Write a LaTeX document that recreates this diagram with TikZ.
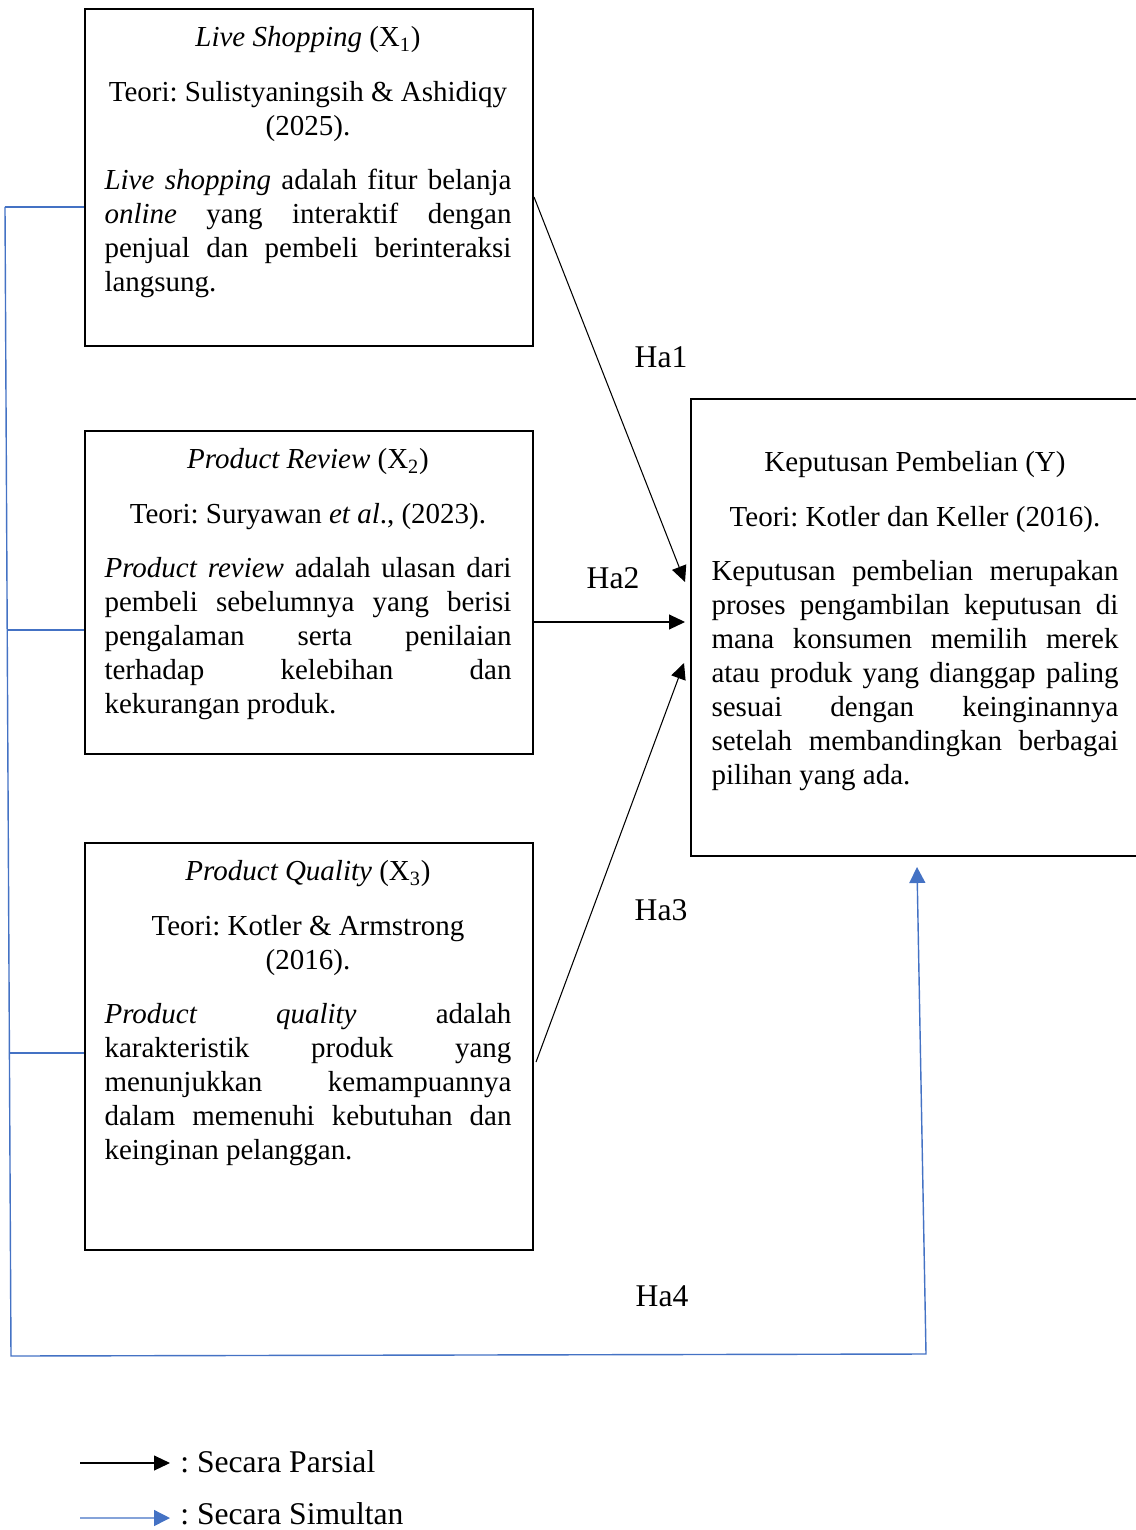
\documentclass[tikz,border=0pt]{standalone}
\usepackage{fontspec}
\setmainfont{Liberation Serif}
\usetikzlibrary{arrows.meta,calc}
\definecolor{simblue}{RGB}{68,114,196}
\frenchspacing
\begin{document}
\begin{tikzpicture}[x=0.02cm,y=-0.02cm,
  every node/.style={font=\fontsize{16.5}{19.35}\selectfont},
  box/.style={draw,line width=1.2pt,rectangle,inner sep=0pt,anchor=north west},
  txt/.style={text width=8.14cm,inner sep=0pt,anchor=north,align=justify,
    execute at begin node={\frenchspacing\setlength{\parskip}{11.7pt}\tolerance=10000\hyphenpenalty=10000\hbadness=10000}},
  part/.style={line width=0.6pt,-{Triangle[length=0.32cm,width=0.3cm]}},
  simul/.style={simblue,line width=0.8pt},
  simularrow/.style={simul,-{Triangle[length=0.32cm,width=0.32cm]}},
  lab/.style={inner sep=0pt,font=\fontsize{18}{21}\selectfont}]
\useasboundingbox (0,0) rectangle (1135,1530);

% boxes
\node[box,minimum width=8.96cm,minimum height=6.74cm] (b1) at (84,8) {};
\node[box,minimum width=8.96cm,minimum height=6.46cm] (b2) at (84,430) {};
\node[box,minimum width=8.96cm,minimum height=8.14cm] (b3) at (84,842) {};
\node[box,minimum width=9.0cm,minimum height=9.14cm] (bY) at (690,398) {};

% texts
\node[txt] (t1) at (308,26) {{\centering\textit{Live Shopping} (X\textsubscript{1})\par
Teori: Sulistyaningsih \& Ashidiqy\\(2025).\par}
\textit{Live shopping} adalah fitur belanja\linebreak
\textit{online} yang interaktif dengan\linebreak
penjual dan pembeli berinteraksi\linebreak
langsung.};

\node[txt] (t2) at (308,448) {{\centering\textit{Product Review} (X\textsubscript{2})\par
Teori: Suryawan \textit{et al}., (2023).\par}
\textit{Product review} adalah ulasan dari\linebreak
pembeli sebelumnya yang berisi\linebreak
pengalaman serta penilaian\linebreak
terhadap kelebihan dan\linebreak
kekurangan produk.};

\node[txt] (t3) at (308,860) {{\centering\textit{Product Quality} (X\textsubscript{3})\par
Teori: Kotler \& Armstrong\\(2016).\par}
\textit{Product quality} adalah\linebreak
karakteristik produk yang\linebreak
menunjukkan kemampuannya\linebreak
dalam memenuhi kebutuhan dan\linebreak
keinginan pelanggan.};

\node[txt] (tY) at (915,451) {{\centering Keputusan Pembelian (Y)\par
Teori: Kotler dan Keller (2016).\par}
Keputusan pembelian merupakan\linebreak
proses pengambilan keputusan di\linebreak
mana konsumen memilih merek\linebreak
atau produk yang dianggap paling\linebreak
sesuai dengan keinginannya\linebreak
setelah membandingkan berbagai\linebreak
pilihan yang ada.};

% partial arrows
\draw[part] ($(b1.north east)+(0,189)$) -- ($(bY.north west)+(-5,184)$);
\draw[part] ($(b2.north east)+(0,192)$) -- ($(bY.north west)+(-5,224)$);
\draw[part] ($(b3.north east)+(2,220)$) -- ($(bY.north west)+(-6,265)$);

% labels
\node[lab] (h1) at (661,357) {Ha1};
\node[lab] (h2) at (613,578) {Ha2};
\node[lab] (h3) at (661,910) {Ha3};
\node[lab] (h4) at (662,1296) {Ha4};

% simultaneous
\coordinate (v1) at (5,207);
\coordinate (v2) at (7.2,630);
\coordinate (v3) at (9.4,1053);
\coordinate (v4) at (11,1356);
\coordinate (v5) at (926,1354);
\draw[simul] ($(b1.north west)+(0,199)$) -- (v1);
\draw[simul] ($(b2.north west)+(0,200)$) -- (v2);
\draw[simul] ($(b3.north west)+(0,211)$) -- (v3);
\draw[simularrow] (v1) -- (v4) -- (v5) -- ($(bY.south west)+(227,10)$);

% legend
\coordinate (l1) at (80,1463);
\coordinate (l2) at (80,1518);
\node[lab,anchor=west,xshift=0.2cm] (lt1) at (170,1462) {: Secara Parsial};
\node[lab,anchor=west,xshift=0.2cm] (lt2) at (170,1514) {: Secara Simultan};
\draw[part] (l1) -- ([xshift=-0.2cm,yshift=-0.02cm]lt1.west);
\draw[simularrow] (l2) -- ([xshift=-0.2cm,yshift=-0.08cm]lt2.west);
\end{tikzpicture}
\end{document}
